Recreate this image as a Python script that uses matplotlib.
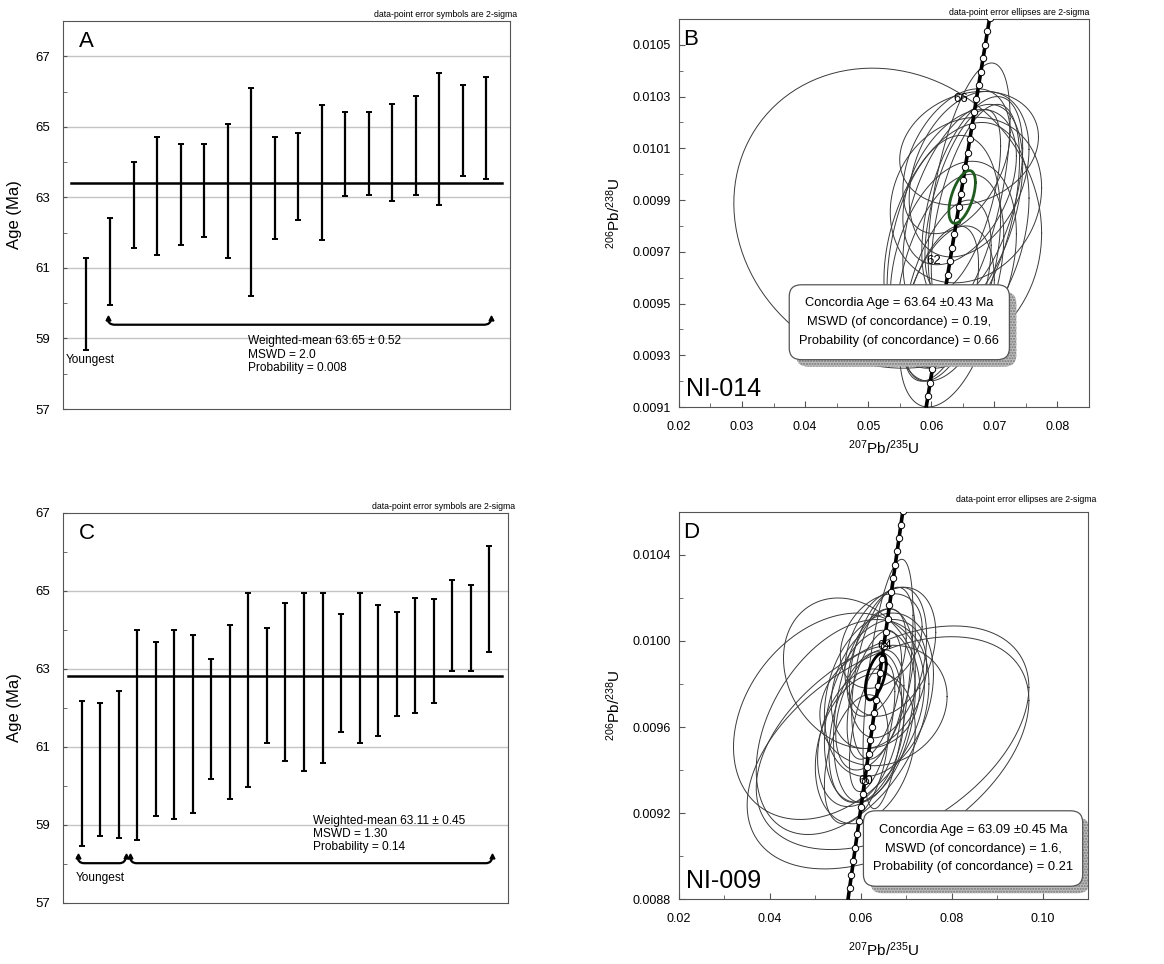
"""U-Pb zircon ages: weighted-mean plots (A, C) and concordia diagrams (B, D)."""
import numpy as np
import matplotlib
matplotlib.use('Agg')
import matplotlib.pyplot as plt
from matplotlib.patches import FancyBboxPatch, PathPatch
from matplotlib.path import Path
from matplotlib.ticker import FixedLocator, MultipleLocator, FormatStrFormatter

plt.rcParams['font.family'] = ['Liberation Sans', 'DejaVu Sans']
plt.rcParams['mathtext.fontset'] = 'custom'
plt.rcParams['mathtext.rm'] = 'Liberation Sans'
plt.rcParams['mathtext.it'] = 'Liberation Sans:italic'
plt.rcParams['mathtext.bf'] = 'Liberation Sans:bold'

# decay constants (1/yr)
L238 = 1.55125e-10
L235 = 9.8485e-10

# ---- panel A: NI-014 single-grain ages, 2-sigma (Ma)
a_low = [58.68, 59.94, 61.57, 61.37, 61.65, 61.87, 61.29, 60.21, 61.83,
         62.37, 61.79, 63.05, 63.07, 62.91, 63.07, 62.78, 63.62, 63.51]
a_high = [61.27, 62.41, 63.99, 64.71, 64.51, 64.51, 65.09, 66.11, 64.70,
          64.83, 65.62, 65.41, 65.41, 65.66, 65.87, 66.52, 66.20, 66.40]
a_mean = 63.41
a_text = 'Weighted-mean 63.65 \u00b1 0.52\nMSWD = 2.0\nProbability = 0.008'

# ---- panel C: NI-009 single-grain ages, 2-sigma (Ma)
c_low = [58.46, 58.72, 58.66, 58.61, 59.24, 59.16, 59.30, 60.17, 59.67,
         59.97, 61.09, 60.65, 60.39, 60.59, 61.39, 61.10, 61.28, 61.79,
         61.88, 62.12, 62.94, 62.96, 63.43]
c_high = [62.19, 62.14, 62.44, 63.99, 63.68, 63.99, 63.88, 63.25, 64.12,
          64.96, 64.06, 64.68, 64.96, 64.96, 64.41, 64.96, 64.64, 64.45,
          64.82, 64.80, 65.29, 65.15, 66.16]
c_mean = 62.82
c_text = 'Weighted-mean 63.11 \u00b1 0.45\nMSWD = 1.30\nProbability = 0.14'

# ---- panel B: NI-014 ellipses (207/235, 2s, 206/238, 2s, rho)
b_x = [0.0531, 0.0660, 0.0650, 0.0640, 0.0655, 0.0665, 0.0630, 0.0625, 0.0660,
       0.0645, 0.0670, 0.0620, 0.0650, 0.0640, 0.0635, 0.0660, 0.0625, 0.0615]
b_sx = [0.0244, 0.0065, 0.0095, 0.0115, 0.0120, 0.0080, 0.0085, 0.0070, 0.0095,
        0.0090, 0.0070, 0.0090, 0.0060, 0.0085, 0.0100, 0.0110, 0.0075, 0.0060]
b_y = [0.00983, 0.00995, 0.00985, 0.00975, 0.00990, 0.00990, 0.00960, 0.00955, 0.01000,
       0.00995, 0.00985, 0.00970, 0.00990, 0.01005, 0.00965, 0.01010, 0.00945, 0.00950]
b_sy = [0.00058, 0.00048, 0.00042, 0.00045, 0.00032, 0.00040, 0.00040, 0.00035, 0.00032,
        0.00030, 0.00042, 0.00045, 0.00035, 0.00028, 0.00040, 0.00022, 0.00035, 0.00030]
b_rho = [-0.10, 0.55, 0.45, 0.35, 0.15, 0.50, 0.40, 0.50, 0.30,
         0.40, 0.50, 0.30, 0.60, 0.40, 0.30, 0.20, 0.40, 0.50]
b_conc = (0.0649, 0.0021, 0.009912, 0.000102, 0.55)
b_text = ('Concordia Age = 63.64 \u00b10.43 Ma\nMSWD (of concordance) = 0.19,\n'
          'Probability (of concordance) = 0.66')

# ---- panel D: NI-009 ellipses
d_x = [0.0670, 0.0660, 0.0530, 0.0560, 0.0580, 0.0660, 0.0630, 0.0620, 0.0640,
       0.0610, 0.0650, 0.0630, 0.0600, 0.0640, 0.0620, 0.0660, 0.0635, 0.0610,
       0.0650, 0.0625, 0.0645, 0.0590, 0.0665]
d_sx = [0.0300, 0.0310, 0.0210, 0.0190, 0.0150, 0.0055, 0.0090, 0.0100, 0.0120,
        0.0080, 0.0070, 0.0060, 0.0095, 0.0105, 0.0075, 0.0085, 0.0065, 0.0110,
        0.0140, 0.0050, 0.0090, 0.0070, 0.0100]
d_y = [0.00955, 0.00948, 0.00965, 0.00960, 0.00985, 0.00980, 0.00970, 0.00965, 0.00975,
       0.00960, 0.00985, 0.00975, 0.00955, 0.00980, 0.00968, 0.00990, 0.00990, 0.00950,
       0.00970, 0.00960, 0.01000, 0.00945, 0.00995]
d_sy = [0.00052, 0.00054, 0.00048, 0.00050, 0.00035, 0.00058, 0.00045, 0.00040, 0.00038,
        0.00035, 0.00040, 0.00030, 0.00032, 0.00030, 0.00028, 0.00035, 0.00025, 0.00035,
        0.00028, 0.00030, 0.00022, 0.00030, 0.00030]
d_rho = [0.45, 0.45, 0.30, 0.40, -0.20, 0.55, 0.35, 0.30, 0.25,
         0.35, 0.45, 0.50, 0.30, 0.30, 0.40, 0.35, 0.45, 0.25,
         0.15, 0.55, 0.30, 0.40, 0.30]
d_conc = (0.0633, 0.0023, 0.009834, 0.000108, 0.55)
d_text = ('Concordia Age = 63.09 \u00b10.45 Ma\nMSWD (of concordance) = 1.6,\n'
          'Probability (of concordance) = 0.21')


def bracket(ax, x0, x1, y0, y1, dx):
    """Horizontal brace with upturned, arrowed ends."""
    verts = [(x0, y1), (x0, y0), (x0 + dx, y0), (x1 - dx, y0), (x1, y0), (x1, y1)]
    codes = [Path.MOVETO, Path.CURVE3, Path.CURVE3, Path.LINETO, Path.CURVE3, Path.CURVE3]
    ax.add_patch(PathPatch(Path(verts, codes), fill=False, lw=1.6, color='k'))
    ax.plot([x0, x1], [y1, y1], ls='none', marker='^', ms=3.5, color='k')


def age_panel(ax, low, high, mean, span, ymax, grid, letter, note):
    low, high = np.array(low), np.array(high)
    x = np.arange(1, len(low) + 1)
    for g in grid:
        ax.axhline(g, color='#c4c4c4', lw=1, zorder=0)
    ax.errorbar(x, (low + high) / 2, yerr=(high - low) / 2, fmt='none',
                ecolor='k', elinewidth=1.6, capsize=2.0, capthick=1.4)
    ax.plot(span, [mean, mean], color='k', lw=1.8)
    ax.set_xlim(0, len(low) + 1)
    ax.set_ylim(57, ymax)
    ax.set_xticks([])
    ax.yaxis.set_major_locator(FixedLocator([57, 59, 61, 63, 65, 67]))
    ax.yaxis.set_minor_locator(FixedLocator([58, 60, 62, 64, 66]))
    ax.tick_params(axis='y', which='both', direction='in', length=3,
                   color='#555555', labelsize=9.5, pad=9)
    ax.set_ylabel('Age (Ma)', fontsize=12, labelpad=10)
    for s in ax.spines.values():
        s.set_color('#555555')
    ax.text(0.035, 0.975, letter, transform=ax.transAxes, fontsize=16,
            va='top', ha='left')
    ax.text(1.015, 1.004, note, transform=ax.transAxes, fontsize=6.3,
            va='bottom', ha='right')


def ellipse(ax, x, sx, y, sy, rho, **kw):
    t = np.linspace(0, 2 * np.pi, 240)
    ex = x + sx * np.cos(t)
    ey = y + sy * (rho * np.cos(t) + np.sqrt(1 - rho ** 2) * np.sin(t))
    ax.plot(ex, ey, **kw)


def concordia_panel(ax, xs, sxs, ys, sys_, rhos, conc, conc_color, step,
                    lab_ages, lab_dx, xlim, ylim, xt, yt, box, text, sample, letter):
    for e in zip(xs, sxs, ys, sys_, rhos):
        ellipse(ax, *e, color='#3a3a3a', lw=0.7, zorder=2)
    ellipse(ax, *conc, color=conc_color, lw=2.0, zorder=5)
    t = np.linspace(50e6, 75e6, 400)
    ax.plot(np.exp(L235 * t) - 1, np.exp(L238 * t) - 1, color='k', lw=2.6, zorder=3)
    tm = np.arange(56, 70, step) * 1e6
    ax.plot(np.exp(L235 * tm) - 1, np.exp(L238 * tm) - 1, ls='none', marker='o',
            ms=4.6, mfc='white', mec='k', mew=0.7, zorder=4)
    for a in lab_ages:
        ax.text(np.exp(L235 * a * 1e6) - 1 + lab_dx, np.exp(L238 * a * 1e6) - 1, str(a),
                fontsize=9.5, ha='center', va='center', zorder=4)
    ax.set_xlim(*xlim)
    ax.set_ylim(*ylim)
    ax.xaxis.set_major_locator(MultipleLocator(xt[0]))
    ax.xaxis.set_minor_locator(MultipleLocator(xt[1]))
    ax.yaxis.set_major_locator(FixedLocator(yt[0]))
    ax.yaxis.set_minor_locator(FixedLocator(yt[1]))
    ax.xaxis.set_major_formatter(FormatStrFormatter('%.2f'))
    ax.yaxis.set_major_formatter(FormatStrFormatter('%.4f'))
    ax.tick_params(which='both', direction='in', color='#555555', labelsize=9)
    ax.tick_params(which='major', length=4)
    ax.tick_params(which='minor', length=3)
    ax.tick_params(axis='x', which='major', pad=10)
    ax.tick_params(axis='y', which='major', pad=6)
    for s in ax.spines.values():
        s.set_color('#555555')
    ax.set_xlabel(r'$^{207}$Pb/$^{235}$U', fontsize=11)
    ax.set_ylabel(r'$^{206}$Pb/$^{238}$U', fontsize=11, labelpad=7)
    x0, y0, x1, y1 = box
    shadow = FancyBboxPatch((x0 + 0.017, y0 - 0.018), x1 - x0, y1 - y0,
                            boxstyle='round,pad=0,rounding_size=0.03',
                            transform=ax.transAxes, facecolor='#bdbdbd',
                            edgecolor='#777777', hatch='......', lw=0, zorder=8)
    ax.add_patch(shadow)
    ax.add_patch(FancyBboxPatch((x0, y0), x1 - x0, y1 - y0,
                                boxstyle='round,pad=0,rounding_size=0.03',
                                transform=ax.transAxes, facecolor='white',
                                edgecolor='#555555', lw=0.9, zorder=9))
    ax.text((x0 + x1) / 2, (y0 + y1) / 2, text, transform=ax.transAxes,
            ha='center', va='center', fontsize=9.3, linespacing=1.75, zorder=10)
    ax.text(0.018, 0.015, sample, transform=ax.transAxes, fontsize=18,
            ha='left', va='bottom', zorder=10)
    ax.text(0.01, 0.975, letter, transform=ax.transAxes, fontsize=16,
            ha='left', va='top', zorder=10)


fig = plt.figure(figsize=(11.64, 9.64), dpi=100)

ax_a = fig.add_axes([0.0541, 0.5757, 0.3840, 0.4025])
age_panel(ax_a, a_low, a_high, a_mean, [0.34, 18.68], 68, [59, 61, 63, 65, 67],
          'A', 'data-point error symbols are 2-sigma')
bracket(ax_a, 1.9, 18.2, 59.39, 59.58, 0.3)
ax_a.text(0.13, 58.4, 'Youngest', fontsize=8.6, va='center')
ax_a.text(7.85, 58.54, a_text, fontsize=8.6, va='center', linespacing=1.15)

ax_c = fig.add_axes([0.0541, 0.0633, 0.3823, 0.4046])
age_panel(ax_c, c_low, c_high, c_mean, [0.29, 23.7], 67, [59, 61, 63, 65],
          'C', 'data-point error symbols are 2-sigma')
bracket(ax_c, 0.79, 3.39, 58.02, 58.2, 0.35)
bracket(ax_c, 3.62, 23.15, 58.02, 58.2, 0.35)
ax_c.text(2.04, 57.64, 'Youngest', fontsize=8.6, va='center', ha='center')
ax_c.text(13.5, 58.77, c_text, fontsize=8.6, va='center', linespacing=1.15)

ax_b = fig.add_axes([0.5833, 0.5778, 0.3522, 0.4025])
concordia_panel(ax_b, b_x, b_sx, b_y, b_sy, b_rho, b_conc, '#1f5a1f', 1 / 3,
                [62, 66], -0.0025, (0.02, 0.085), (0.0091, 0.0106), (0.01, 0.005),
                (np.arange(0.0091, 0.01055, 0.0002), np.arange(0.0092, 0.0106, 0.0002)),
                (0.269, 0.122, 0.806, 0.315), b_text, 'NI-014', 'B')
ax_b.text(1.0, 1.004, 'data-point error ellipses are 2-sigma', transform=ax_b.transAxes,
          fontsize=6.3, ha='right', va='bottom')

ax_d = fig.add_axes([0.5833, 0.0674, 0.3514, 0.4015])
concordia_panel(ax_d, d_x, d_sx, d_y, d_sy, d_rho, d_conc, 'k', 0.4,
                [60, 64], 0.0003, (0.02, 0.11), (0.0088, 0.0106), (0.02, 0.01),
                (np.arange(0.0088, 0.01045, 0.0004), np.arange(0.0090, 0.0106, 0.0004)),
                (0.451, 0.033, 0.987, 0.228), d_text, 'NI-009', 'D')
ax_d.xaxis.labelpad = 11
ax_d.text(1.02, 1.02, 'data-point error ellipses are 2-sigma', transform=ax_d.transAxes,
          fontsize=6.3, ha='right', va='bottom')

fig.savefig('out.png', dpi=100)
